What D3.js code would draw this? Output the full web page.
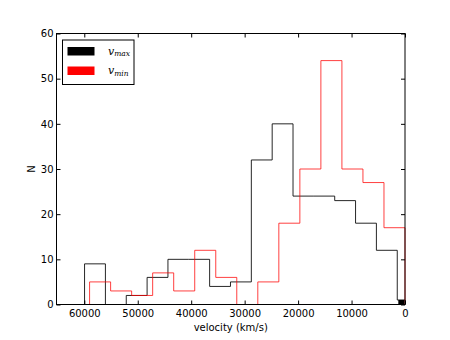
<html>
<head>
<script src="https://d3js.org/d3.v7.min.js"></script>
<style>
  body { margin: 0; background: #fff; }
  text { font-family: "DejaVu Sans", sans-serif; }
</style>
</head>
<body>
<svg id="chart" width="450" height="340"></svg>
<script>
// bin edges (km/s, from high to low) and counts
var vmaxEdges = [59950, 56050, 52150, 48250, 44350, 40450, 36550, 32650, 28750, 24850, 20950, 17050, 13150, 9250, 5350, 1450, 0];
var vmaxCounts = [9, 0, 2, 6, 10, 10, 4, 5, 32, 40, 24, 24, 23, 18, 12, 1];
var vminEdges = [59010, 55076, 51142, 47208, 43274, 39340, 35406, 31472, 27538, 23604, 19670, 15736, 11802, 7868, 3934, 0];
var vminCounts = [5, 3, 2, 7, 3, 12, 6, 0, 5, 18, 30, 54, 30, 27, 17];
// small filled bar right by zero
var nearZero = [{x0: 1250, x1: 150, n: 1}];
var xTicks = [60000, 50000, 40000, 30000, 20000, 10000, 0];
var yTicks = [0, 10, 20, 30, 40, 50, 60];

var plotL = 56.5, plotR = 405, plotT = 33.5, plotB = 304.5;
var svg = d3.select("#chart");

var x = d3.scaleLinear().domain([65200, 0]).range([plotL, plotR]);
var y = d3.scaleLinear().domain([0, 60]).range([plotB, plotT]);

function stepPoints(edges, counts) {
  var pts = [[edges[0], 0]];
  counts.forEach(function(c, i) {
    pts.push([edges[i], c]);
    pts.push([edges[i + 1], c]);
  });
  pts.push([edges[edges.length - 1], 0]);
  return pts;
}

var line = d3.line().x(function(d) { return x(d[0]); }).y(function(d) { return y(d[1]); });

svg.append("path")
  .attr("d", line(stepPoints(vmaxEdges, vmaxCounts)))
  .attr("fill", "none").attr("stroke", "black").attr("stroke-opacity", 0.85).attr("stroke-width", 1);

svg.append("path")
  .attr("d", line(stepPoints(vminEdges, vminCounts)))
  .attr("fill", "none").attr("stroke", "red").attr("stroke-opacity", 0.75).attr("stroke-width", 1);

svg.selectAll(".nz").data(nearZero).enter().append("rect")
  .attr("x", function(d) { return x(d.x0); })
  .attr("width", function(d) { return x(d.x1) - x(d.x0); })
  .attr("y", function(d) { return y(d.n); })
  .attr("height", function(d) { return y(0) - y(d.n); })
  .attr("fill", "black");

// frame
svg.append("rect")
  .attr("x", plotL).attr("y", plotT).attr("width", plotR - plotL).attr("height", plotB - plotT)
  .attr("fill", "none").attr("stroke", "black").attr("stroke-width", 1);

// axes with inward ticks, like matplotlib
var xAxis = d3.axisBottom(x).tickValues(xTicks).tickSize(-4).tickPadding(5).tickFormat(d3.format("d"));
var gx = svg.append("g").attr("transform", "translate(0," + plotB + ")").call(xAxis);
var xTop = d3.axisTop(x).tickValues(xTicks).tickSize(-4).tickFormat("");
var gxt = svg.append("g").attr("transform", "translate(0," + plotT + ")").call(xTop);
var yAxis = d3.axisLeft(y).tickValues(yTicks).tickSize(-4).tickPadding(3);
var gy = svg.append("g").attr("transform", "translate(" + plotL + ",0)").call(yAxis);
var yRight = d3.axisRight(y).tickValues(yTicks).tickSize(-4).tickFormat("");
var gyr = svg.append("g").attr("transform", "translate(" + plotR + ",0)").call(yRight);

[gx, gxt, gy, gyr].forEach(function(g) {
  g.select(".domain").remove();
  g.selectAll("text").attr("font-size", 10).attr("fill", "black").style("font-family", "DejaVu Sans");
});

svg.append("text").attr("x", (plotL + plotR) / 2).attr("y", 331)
  .attr("text-anchor", "middle").attr("font-size", 10).text("velocity (km/s)");
svg.append("text").attr("transform", "translate(35," + (plotT + plotB) / 2 + ") rotate(-90)")
  .attr("text-anchor", "middle").attr("font-size", 10).text("N");

// legend
var lg = svg.append("g");
lg.append("rect").attr("x", 62.5).attr("y", 40).attr("width", 71.5).attr("height", 44.5)
  .attr("fill", "white").attr("stroke", "black").attr("stroke-width", 1);
var legendItems = [{c: "black", sub: "max"}, {c: "red", sub: "min"}];
legendItems.forEach(function(d, i) {
  var yy = 47 + i * 19.5;
  lg.append("rect").attr("x", 67.5).attr("y", yy).attr("width", 27).attr("height", 8.5).attr("fill", d.c);
  var t = lg.append("text").attr("x", 108).attr("y", yy + 7.5).attr("font-size", 11)
    .style("font-family", "DejaVu Serif").attr("font-style", "italic");
  t.append("tspan").text("v");
  t.append("tspan").attr("font-size", 7.5).attr("dy", 1.5).text(d.sub);
});
</script>
</body>
</html>
